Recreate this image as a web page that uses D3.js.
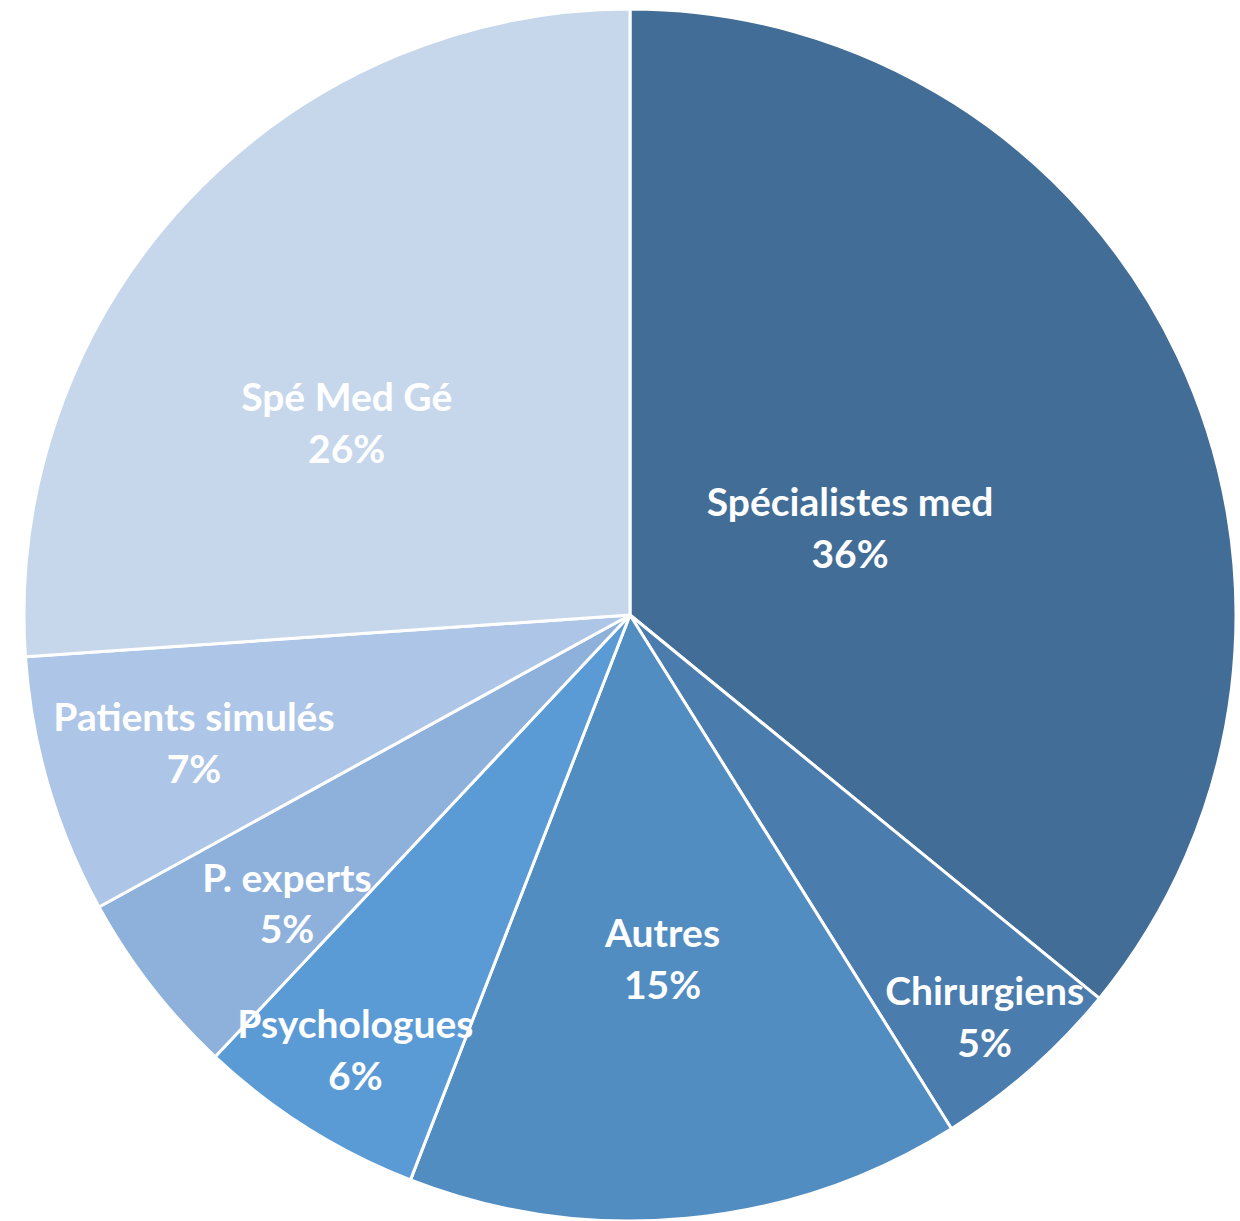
<!DOCTYPE html>
<html>
<head>
<meta charset="utf-8">
<script src="https://cdn.jsdelivr.net/npm/d3@7"></script>
<style>
  html, body { margin: 0; padding: 0; background: #fff; }
  svg text { font-family: Lato, "Open Sans", sans-serif; font-weight: bold; fill: #fff; }
</style>
</head>
<body>
<div id="chart"></div>
<script>
// categories, clockwise from 12 o'clock
var categories = ['Spécialistes med', 'Chirurgiens', 'Autres', 'Psychologues', 'P. experts', 'Patients simulés', 'Spé Med Gé'];
var values = [35.9, 5.2, 14.8, 6.1, 5.0, 6.9, 26.1];
var colors = ['#416D97', '#4A7CAE', '#528DC2', '#5B9BD5', '#8EB1DC', '#ADC5E6', '#C6D7EC'];

// label placement (fraction of radius, angle nudge in degrees)
var labelRadius = [0.39, 0.885, 0.57, 0.85, 0.74, 0.75, 0.564];
var labelNudge = [4, 0, 0, 0, -2.3, 0, -9];

var width = 1240, height = 1221;
var cx = 630, cy = 615, radius = 606;

var svg = d3.select('#chart').append('svg')
    .attr('width', width)
    .attr('height', height);

var g = svg.append('g').attr('transform', 'translate(' + cx + ',' + cy + ')');

var pie = d3.pie().sort(null).value(function (d) { return d; });
var arcs = pie(values);

var arc = d3.arc().innerRadius(0).outerRadius(radius);

g.selectAll('path.slice')
    .data(arcs)
    .enter()
    .append('path')
    .attr('class', 'slice')
    .attr('d', arc)
    .attr('fill', function (d, i) { return colors[i]; })
    .attr('stroke', '#fff')
    .attr('stroke-width', 3)
    .attr('stroke-linejoin', 'round');

var total = d3.sum(values);

var labels = g.selectAll('g.label')
    .data(arcs)
    .enter()
    .append('g')
    .attr('class', 'label')
    .attr('transform', function (d, i) {
        var a = (d.startAngle + d.endAngle) / 2 + labelNudge[i] * Math.PI / 180;
        var r = labelRadius[i] * radius;
        return 'translate(' + (Math.sin(a) * r) + ',' + (-Math.cos(a) * r) + ')';
    });

labels.append('text')
    .attr('text-anchor', 'middle')
    .attr('y', -26)
    .attr('dy', '0.35em')
    .style('font-size', '39px')
    .text(function (d, i) { return categories[i]; });

labels.append('text')
    .attr('text-anchor', 'middle')
    .attr('y', 26)
    .attr('dy', '0.35em')
    .style('font-size', '39px')
    .text(function (d) { return Math.round(d.data / total * 100) + '%'; });
</script>
</body>
</html>
